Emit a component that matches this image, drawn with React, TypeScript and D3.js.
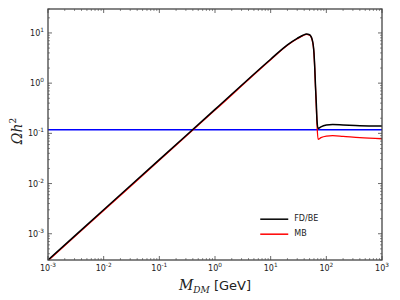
import React from "react";
import * as d3 from "d3";

// masses in GeV
const massFD = [0.001, 0.01, 0.1, 1, 10, 20, 30, 38, 44, 50, 56, 60, 62, 64, 66, 68, 71, 80, 100, 130, 200, 400, 1000];
const omegaFD = [0.0003, 0.003, 0.03, 0.3, 3, 5.8, 7.8, 9.0, 9.5, 9.2, 7.2, 4.0, 2.0, 0.83, 0.4, 0.18, 0.125, 0.135, 0.146, 0.15, 0.147, 0.142, 0.14];
const massMB = [0.001, 0.01, 0.1, 1, 10, 20, 30, 38, 44, 50, 56, 60, 62, 64, 66, 68, 71, 80, 100, 130, 200, 400, 1000];
const omegaMB = [0.00029, 0.0029, 0.029, 0.29, 2.92, 5.7, 7.65, 8.85, 9.35, 9.05, 7.05, 3.85, 1.9, 0.78, 0.35, 0.15, 0.076, 0.082, 0.088, 0.09, 0.087, 0.082, 0.078];
const planck = 0.118;
const xDecades = [-3, -2, -1, 0, 1, 2, 3];
const yDecades = [-3, -2, -1, 0, 1];
const legendItems = ["FD/BE", "MB"];
const legendColors = ["#000000", "#ff0000"];

const margin = { top: 9, right: 18, bottom: 40, left: 48 };
const W = 400;
const H = 300;

const App = () => {
  const w = W - margin.left - margin.right;
  const h = H - margin.top - margin.bottom;
  const x = d3.scaleLog().domain([1e-3, 1e3]).range([0, w]);
  const y = d3.scaleLog().domain([3e-4, 30]).range([h, 0]);

  const line = d3.line<[number, number]>()
    .x(d => x(d[0]))
    .y(d => y(d[1]))
    .curve(d3.curveMonotoneX);

  const fd = massFD.map((m, i) => [m, omegaFD[i]] as [number, number]);
  const mb = massMB.map((m, i) => [m, omegaMB[i]] as [number, number]);

  // minor ticks 2..9 per decade
  const xMinor: number[] = [];
  xDecades.slice(0, -1).forEach(e => {
    for (let k = 2; k < 10; k++) xMinor.push(k * Math.pow(10, e));
  });
  const yMinor: number[] = [];
  [-4, -3, -2, -1, 0, 1].forEach(e => {
    for (let k = 2; k < 10; k++) {
      const v = k * Math.pow(10, e);
      if (v >= 3e-4 && v <= 30) yMinor.push(v);
    }
  });

  const frame = "#444";
  const tickFont = "DejaVu Sans";

  return (
    <svg width={W} height={H} style={{ position: "absolute", left: 0, top: 0 }}>
      <rect width={W} height={H} fill="#fff" />
      <g transform={`translate(${margin.left},${margin.top})`}>
        <defs>
          <clipPath id="plot">
            <rect width={w} height={h} />
          </clipPath>
        </defs>
        <g clipPath="url(#plot)">
          <line x1={0} x2={w} y1={y(planck)} y2={y(planck)} stroke="#0000ff" strokeWidth={1.6} />
          <path d={line(mb) || ""} fill="none" stroke="#ff0000" strokeWidth={1.3} strokeLinejoin="round" />
          <path d={line(fd) || ""} fill="none" stroke="#000" strokeWidth={1.5} strokeLinejoin="round" />
        </g>

        {/* ticks, inward on all four sides */}
        {xDecades.map(e => {
          const px = x(Math.pow(10, e));
          return (
            <g key={"xt" + e}>
              <line x1={px} x2={px} y1={h} y2={h - 4} stroke={frame} strokeWidth={0.8} />
              <line x1={px} x2={px} y1={0} y2={4} stroke={frame} strokeWidth={0.8} />
              <text x={px} y={h + 11} textAnchor="middle" fontFamily={tickFont} fontSize={8} fill="#222">
                10<tspan dy={-4} fontSize={5.8}>{e}</tspan>
              </text>
            </g>
          );
        })}
        {xMinor.map((v, i) => (
          <g key={"xm" + i}>
            <line x1={x(v)} x2={x(v)} y1={h} y2={h - 2} stroke={frame} strokeWidth={0.6} />
            <line x1={x(v)} x2={x(v)} y1={0} y2={2} stroke={frame} strokeWidth={0.6} />
          </g>
        ))}
        {yDecades.map(e => {
          const py = y(Math.pow(10, e));
          return (
            <g key={"yt" + e}>
              <line x1={0} x2={4} y1={py} y2={py} stroke={frame} strokeWidth={0.8} />
              <line x1={w} x2={w - 4} y1={py} y2={py} stroke={frame} strokeWidth={0.8} />
              <text x={-4} y={py + 3} textAnchor="end" fontFamily={tickFont} fontSize={8} fill="#222">
                10<tspan dy={-4} fontSize={5.8}>{e}</tspan>
              </text>
            </g>
          );
        })}
        {yMinor.map((v, i) => (
          <g key={"ym" + i}>
            <line x1={0} x2={2} y1={y(v)} y2={y(v)} stroke={frame} strokeWidth={0.6} />
            <line x1={w} x2={w - 2} y1={y(v)} y2={y(v)} stroke={frame} strokeWidth={0.6} />
          </g>
        ))}

        <rect width={w} height={h} fill="none" stroke={frame} strokeWidth={1.3} />

        {/* legend */}
        {legendItems.map((name, i) => (
          <g key={name} transform={`translate(${x(6.5)},${y(0.00195) + i * 15})`}>
            <line x1={0} x2={28} y1={0} y2={0} stroke={legendColors[i]} strokeWidth={1.5} />
            <text x={34} y={2} fontFamily={tickFont} fontSize={8} fill="#222">{name}</text>
          </g>
        ))}
      </g>

      {/* axis labels */}
      <text x={215} y={290} textAnchor="middle" fontSize={14} fill="#222">
        <tspan fontFamily="DejaVu Serif" fontStyle="italic">M</tspan>
        <tspan fontFamily="DejaVu Serif" fontStyle="italic" fontSize={9} dy={3}>DM</tspan>
        <tspan fontFamily="DejaVu Sans" fontSize={13} dy={-3}> [GeV]</tspan>
      </text>
      <text transform="translate(22,131) rotate(-90)" textAnchor="middle" fontSize={14} fill="#222">
        <tspan fontFamily="DejaVu Serif" fontStyle="italic">Ωh</tspan>
        <tspan fontFamily="DejaVu Serif" fontSize={9} dy={-6}>2</tspan>
      </text>
    </svg>
  );
};

export default App;
